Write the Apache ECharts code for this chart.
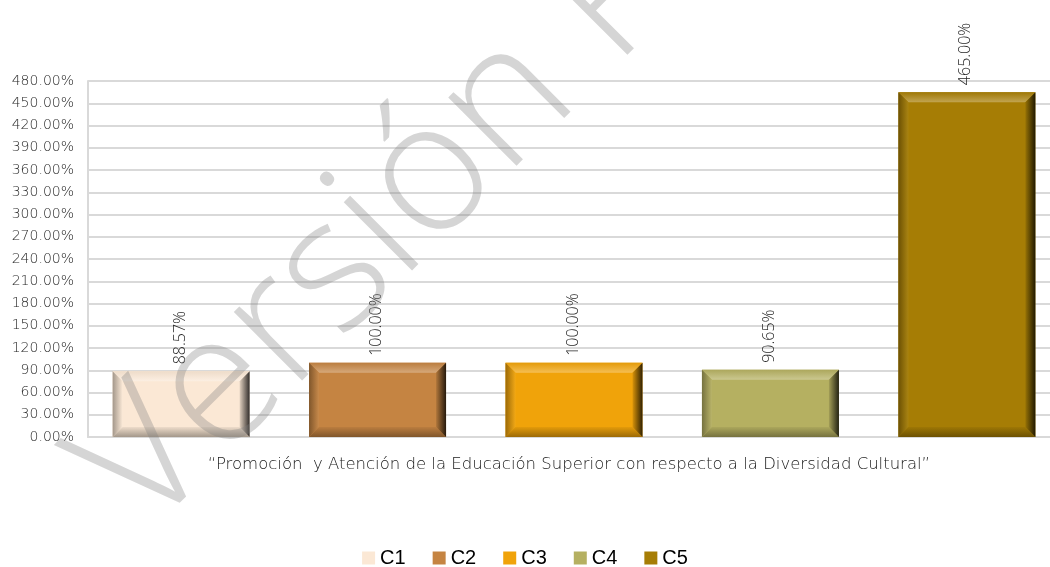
<!DOCTYPE html>
<html><head><meta charset="utf-8">
<script src="https://cdn.jsdelivr.net/npm/echarts@6/dist/echarts.min.js"></script>
<style>html,body{margin:0;padding:0;background:#fff}#c{width:1050px;height:567px}</style>
</head><body><div id="c"></div>
<script>
var categories = ['“Promoción  y Atención de la Educación Superior con respecto a la Diversidad Cultural”'];
var seriesNames = ['C1','C2','C3','C4','C5'];
var C1 = [88.57];
var C2 = [100.00];
var C3 = [100.00];
var C4 = [90.65];
var C5 = [465.00];
var seriesValues = [C1, C2, C3, C4, C5];
var colors = ['#FBE8D5','#C58442','#F0A30A','#B5B061','#A67D05'];

function mix(hex, t, target){
  var r=parseInt(hex.substr(1,2),16),g=parseInt(hex.substr(3,2),16),b=parseInt(hex.substr(5,2),16);
  r=Math.round(r+(target-r)*t);g=Math.round(g+(target-g)*t);b=Math.round(b+(target-b)*t);
  return 'rgb('+r+','+g+','+b+')';
}
function grad(x,y,x2,y2,c0,c1){
  return {type:'linear',x:x,y:y,x2:x2,y2:y2,colorStops:[{offset:0,color:c0},{offset:1,color:c1}]};
}

function makeRender(i){
  var col = colors[i];
  return function(params, api){
    var cat = api.value(0), val = api.value(1);
    var top = api.coord([cat, val]);
    var base = api.coord([cat, 0]);
    var band = api.size([1,0])[0];
    var w = band*0.1424, step = band*0.2042;
    var cx = top[0] + 5 + (i-2)*step;
    var x0 = cx-w/2, x1 = cx+w/2, y0 = top[1], y1 = base[1];
    var b = Math.min(10, (y1-y0)/3);
    return {type:'group', children:[
      {type:'rect', shape:{x:x0,y:y0,width:w,height:y1-y0}, style:{fill:col}},
      {type:'polygon', shape:{points:[[x0,y0],[x1,y0],[x1-b,y0+b],[x0+b,y0+b]]},
        style:{fill:grad(0,0,0,1,mix(col,0.05,0),mix(col,0.3,255))}},
      {type:'polygon', shape:{points:[[x0,y0],[x0+b,y0+b],[x0+b,y1-b],[x0,y1]]},
        style:{fill:grad(0,0,1,0,mix(col,0.35,0),mix(col,0.05,255))}},
      {type:'polygon', shape:{points:[[x0,y1],[x0+b,y1-b],[x1-b,y1-b],[x1,y1]]},
        style:{fill:grad(0,0,0,1,mix(col,0.05,0),mix(col,0.35,0))}},
      {type:'polygon', shape:{points:[[x1,y0],[x1,y1],[x1-b,y1-b],[x1-b,y0+b]]},
        style:{fill:grad(1,0,0,0,mix(col,0.8,0),mix(col,0.1,0))}},
      {type:'text', x:cx-1, y:y0-7, rotation:Math.PI/2,
        style:{text:val.toFixed(2)+'%', textAlign:'left', textVerticalAlign:'middle',
          fontFamily:'Open Sans', fontWeight:300, fontSize:16, fill:'#262626'}}
    ]};
  };
}

var series = seriesNames.map(function(n,i){
  return {name:n, type:'custom', renderItem:makeRender(i), itemStyle:{color:colors[i]},
    encode:{x:0,y:1}, data:seriesValues[i].map(function(v,k){return [k,v];})};
});

var chart = echarts.init(document.getElementById('c'));
chart.setOption({
  animation:false,
  backgroundColor:'#fff',
  grid:{left:88, right:0, top:81, bottom:130},
  xAxis:{type:'category', data:categories,
    axisLine:{show:true, lineStyle:{color:'#d9d9d9', width:2}}, axisTick:{show:false},
    axisLabel:{margin:19, fontSize:16.5, color:'#1a1a1a', fontFamily:'DejaVu Sans', fontWeight:300}},
  yAxis:{type:'value', min:0, max:480, interval:30,
    axisLine:{show:true, lineStyle:{color:'#d9d9d9', width:2}}, axisTick:{show:false},
    splitLine:{lineStyle:{color:'#d9d9d9', width:2}},
    axisLabel:{margin:14, fontSize:14, color:'#262626', fontFamily:'DejaVu Sans', fontWeight:300,
      formatter:function(v){return v.toFixed(2)+'%';}}},
  legend:{data:seriesNames, top:543, left:'center', icon:'rect', itemWidth:13, itemHeight:13, itemGap:27,
    textStyle:{fontSize:20, color:'#000', fontFamily:'Liberation Sans'}},
  graphic:[{type:'text', x:109, y:500, rotation:Math.PI/4, z:100, silent:true,
    style:{text:'Versión Preliminar', fontFamily:'Open Sans', fontWeight:300, fontSize:182, fill:'rgba(128,128,128,0.33)',
      textAlign:'left', textVerticalAlign:'middle'}}],
  series:series
});
</script></body></html>
